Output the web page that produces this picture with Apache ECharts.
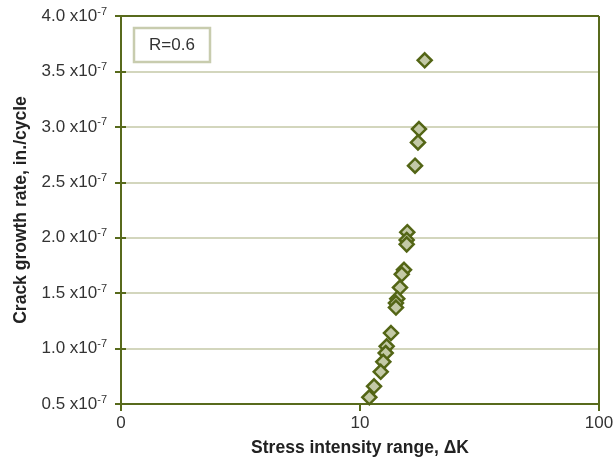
<!DOCTYPE html>
<html>
<head>
<meta charset="utf-8">
<script src="https://cdn.jsdelivr.net/npm/echarts@6/dist/echarts.min.js"></script>
<style>
html,body{margin:0;padding:0;background:#fff;}
#chart{width:616px;height:459px;}
</style>
</head>
<body>
<div id="chart"></div>
<script>
// Stress intensity range ΔK (log scale)
var deltaK = [18.65, 17.65, 17.48, 16.99, 15.77, 15.68, 15.68, 15.28, 14.95, 14.70,
              14.32, 14.14, 14.14, 13.48, 12.93, 12.81, 12.52, 12.21, 11.45, 10.94];
// Crack growth rate, units of 1e-7 in./cycle
var growthRate = [3.60, 2.98, 2.86, 2.65, 2.05, 1.98, 1.94, 1.71, 1.67, 1.55,
                  1.45, 1.41, 1.37, 1.14, 1.02, 0.96, 0.88, 0.79, 0.66, 0.56];
var xTickLabels = {1: '0', 10: '10', 100: '100'};
var yTickValues = [0.5, 1.0, 1.5, 2.0, 2.5, 3.0, 3.5, 4.0];
var seriesLabel = 'R=0.6';

var points = deltaK.map(function (k, i) { return [k, growthRate[i]]; });

var chart = echarts.init(document.getElementById('chart'), null, {renderer: 'canvas'});
var axisColor = '#586a1c';
var font = '"Liberation Sans", Arial, Helvetica, sans-serif';

chart.setOption({
  animation: false,
  textStyle: {fontFamily: font},
  grid: {left: 121, right: 17, top: 16, bottom: 55, containLabel: false, outerBoundsMode: 'none'},
  xAxis: {
    type: 'log',
    logBase: 10,
    min: 1,
    max: 100,
    name: 'Stress intensity range, \u0394K',
    nameLocation: 'middle',
    nameGap: 35,
    nameTextStyle: {fontFamily: font, fontWeight: 'bold', fontSize: 17.5, color: '#222'},
    axisLine: {show: true, lineStyle: {color: axisColor, width: 2}},
    axisTick: {show: true, length: 7, lineStyle: {color: axisColor, width: 2}},
    minorTick: {show: false},
    splitLine: {show: false},
    axisLabel: {
      fontFamily: font, fontSize: 17, color: '#333', margin: 11,
      formatter: function (v) { var r = Math.round(v); return xTickLabels[r] !== undefined ? xTickLabels[r] : ''; }
    }
  },
  yAxis: [{
    type: 'value',
    min: 0.5,
    max: 4.0,
    interval: 0.5,
    name: 'Crack growth rate, in./cycle',
    nameLocation: 'middle',
    nameGap: 89,
    nameTextStyle: {fontFamily: font, fontWeight: 'bold', fontSize: 17.5, color: '#222'},
    axisLine: {show: true, lineStyle: {color: axisColor, width: 2}},
    axisTick: {show: true, length: 6, lineStyle: {color: axisColor, width: 2}},
    splitLine: {show: true, lineStyle: {color: '#d3d6bd', width: 2}},
    axisLabel: {
      margin: 14,
      formatter: function (v) {
        var idx = yTickValues.findIndex(function (t) { return Math.abs(t - v) < 1e-6; });
        if (idx < 0) return '';
        return '{m|' + yTickValues[idx].toFixed(1) + ' x10}{s|-7}';
      },
      rich: {
        m: {fontFamily: font, fontSize: 17, color: '#333'},
        s: {fontFamily: font, fontSize: 11, color: '#333', verticalAlign: 'top', padding: [0, 0, 9, 0]}
      }
    }
  }, {
    type: 'value',
    position: 'left',
    min: 0.5,
    max: 4.0,
    interval: 0.5,
    axisLine: {show: false},
    axisTick: {show: true, inside: true, length: 5, lineStyle: {color: axisColor, width: 2}},
    axisLabel: {show: false},
    splitLine: {show: false}
  }],
  series: [{
    name: seriesLabel,
    type: 'scatter',
    symbol: 'diamond',
    symbolSize: [14, 14],
    itemStyle: {color: '#c3c9a6', borderColor: '#536515', borderWidth: 2.5, opacity: 1},
    data: points,
    z: 5
  }],
  graphic: [
    {type: 'line', shape: {x1: 121, y1: 16, x2: 599, y2: 16}, style: {stroke: axisColor, lineWidth: 2}, z: 10},
    {type: 'line', shape: {x1: 599, y1: 16, x2: 599, y2: 404}, style: {stroke: axisColor, lineWidth: 2}, z: 10},
    {type: 'rect', shape: {x: 134, y: 28, width: 76, height: 34}, style: {fill: '#fff', stroke: '#c8ccae', lineWidth: 2.5}, z: 10},
    {type: 'text', x: 172, y: 45, style: {text: seriesLabel, fontFamily: font, fontSize: 17, fill: '#333', align: 'center', verticalAlign: 'middle'}, z: 11}
  ]
});
</script>
</body>
</html>
